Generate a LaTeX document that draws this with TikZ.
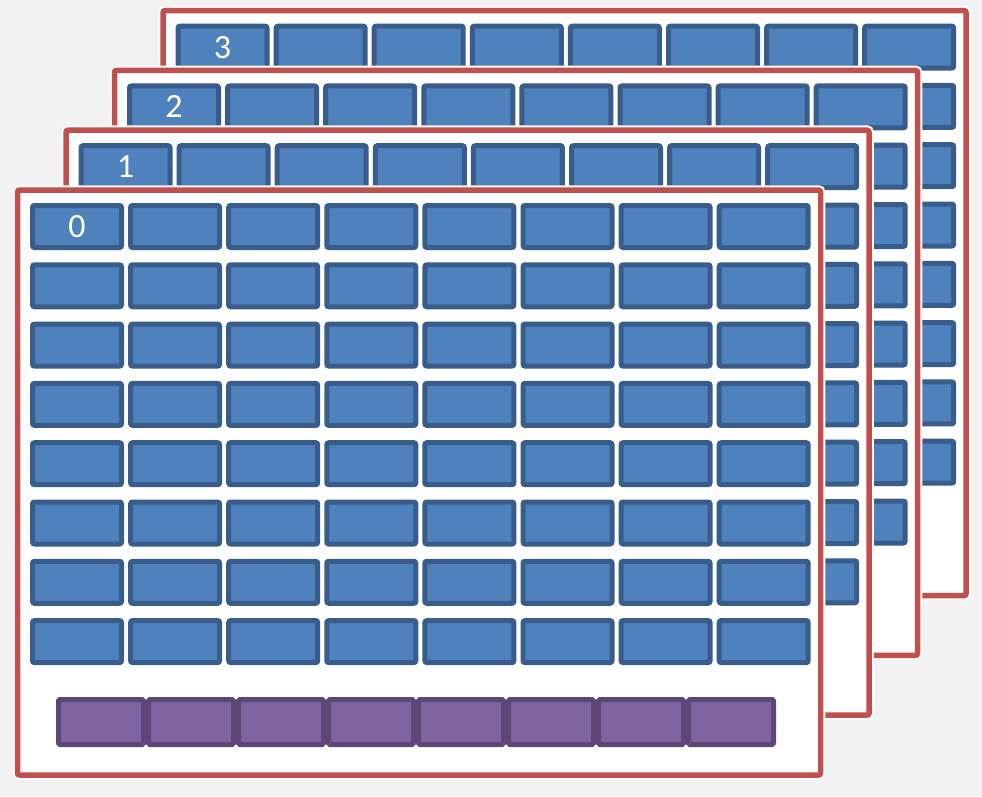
\documentclass[tikz,border=0pt]{standalone}
\usepackage{fontspec}
\setmainfont{Carlito}
\definecolor{bgc}{HTML}{F2F2F2}
\definecolor{cellfill}{HTML}{4F81BD}
\definecolor{celldraw}{HTML}{385D8A}
\definecolor{pfill}{HTML}{8064A2}
\definecolor{pdraw}{HTML}{5C4776}
\definecolor{framered}{HTML}{C0504D}
\tikzset{
  cell/.style={draw=celldraw, fill=cellfill, line width=5pt, rounded corners=2pt,
    minimum width=89pt, minimum height=42pt, inner sep=0pt},
  pcell/.style={draw=pdraw, fill=pfill, line width=5pt, rounded corners=1.5pt,
    minimum width=85pt, minimum height=45pt, inner sep=0pt},
  framebox/.style={draw=framered, fill=white, line width=5.5pt, rounded corners=2pt,
    preaction={draw=white, line width=9.5pt}},
  digit/.style={text=white, font=\fontsize{34}{34}\selectfont, inner sep=0pt}
}
\begin{document}
\begin{tikzpicture}[x=1pt,y=-1pt]
\useasboundingbox (0,0) rectangle (982,796);
\fill[bgc] (0,0) rectangle (982,796);
\foreach \k in {3,2,1,0} {
  \pgfmathsetmacro\fx{17.5+48.5*\k}
  \pgfmathsetmacro\fy{190-59.8*\k}
  \draw[framebox] (\fx,\fy) rectangle ++(803,585);
  \foreach \r in {0,...,7} {
    \foreach \c in {0,...,7} {
      \node[cell] (f\k r\r c\c) at (\fx+59.5+98.1*\c, \fy+36.5+59.3*\r) {};
    }
  }
  \node[digit] (lab\k) at (f\k r0c0) {\k};
}
\foreach \i in {0,...,7} {
  \node[pcell] (p\i) at (101+90*\i, 722) {};
}
\end{tikzpicture}
\end{document}
